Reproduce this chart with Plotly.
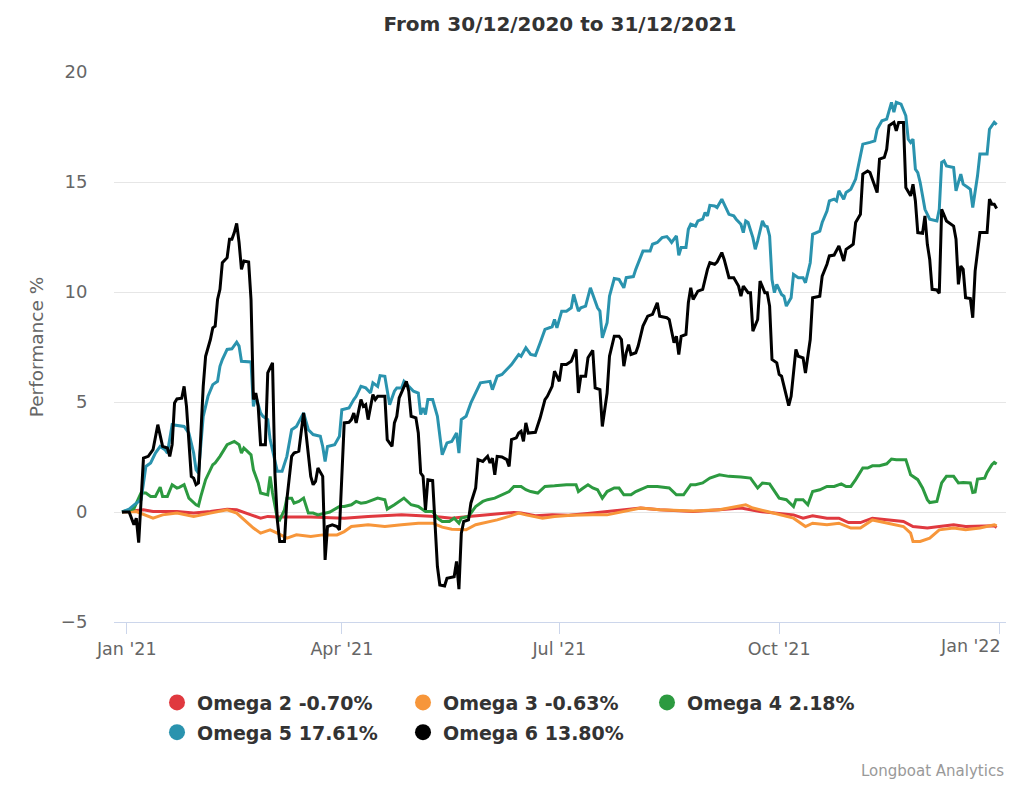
import pandas as pd
import plotly.graph_objects as go

# Day offsets from 1 Jan 2021 and performance values (%)
BASE_DATE = "2021-01-01"

OMEGA2_DAYS = [-2, 7, 11, 21, 28, 35, 42, 46, 52, 56,
               59, 63, 77, 91, 101, 115, 129, 136, 143, 150,
               157, 162, 165, 171, 178, 185, 195, 202, 215, 223,
               237, 248, 257, 265, 273, 279, 283, 287, 293, 298,
               302, 307, 312, 318, 325, 329, 335, 340, 346, 351,
               357, 363, 364]
OMEGA2_VALS = [0.0, 0.10, 0.02, 0.02, -0.05, 0.02, 0.13, 0.10, -0.13, -0.28,
               -0.20, -0.23, -0.23, -0.28, -0.20, -0.13, -0.20, -0.28, -0.20, -0.13,
               -0.08, -0.02, -0.05, -0.17, -0.13, -0.15, -0.05, 0.02, 0.18, 0.10,
               0.02, 0.10, 0.18, 0.02, -0.05, -0.13, -0.28, -0.17, -0.28, -0.28,
               -0.48, -0.48, -0.28, -0.36, -0.43, -0.66, -0.73, -0.66, -0.58, -0.66,
               -0.63, -0.63, -0.70]

OMEGA3_DAYS = [-2, 4, 11, 15, 21, 28, 35, 42, 46, 49,
               53, 56, 60, 63, 67, 71, 77, 82, 88, 91,
               94, 101, 108, 115, 122, 128, 132, 136, 142, 146,
               150, 155, 160, 164, 167, 174, 179, 186, 195, 201,
               215, 223, 237, 248, 259, 262, 268, 273, 279, 284,
               287, 293, 298, 303, 307, 312, 318, 325, 328, 329,
               332, 336, 340, 346, 351, 357, 363, 364]
OMEGA3_VALS = [0.0, 0.02, -0.28, -0.13, -0.05, -0.20, -0.05, 0.10, -0.05, -0.36,
               -0.73, -0.96, -0.81, -0.96, -1.19, -1.04, -1.11, -1.04, -1.04, -0.89,
               -0.66, -0.58, -0.66, -0.58, -0.51, -0.51, -0.69, -0.78, -0.81, -0.58,
               -0.48, -0.36, -0.20, -0.05, -0.13, -0.28, -0.20, -0.15, -0.13, -0.13,
               0.18, 0.10, 0.05, 0.10, 0.33, 0.18, 0.02, -0.13, -0.28, -0.66,
               -0.51, -0.58, -0.51, -0.73, -0.73, -0.36, -0.51, -0.66, -0.96, -1.34,
               -1.34, -1.19, -0.81, -0.73, -0.81, -0.73, -0.58, -0.63]

OMEGA4_DAYS = [-2, 3, 6, 8, 10, 12, 14, 15, 17, 19,
               21, 22, 24, 26, 29, 30, 31, 33, 36, 37,
               39, 42, 45, 47, 48, 49, 52, 53, 55, 56,
               59, 60, 61, 63, 64, 66, 67, 69, 70, 72,
               74, 76, 78, 80, 85, 89, 91, 94, 96, 98,
               100, 105, 108, 109, 112, 114, 116, 119, 122, 125,
               128, 130, 132, 135, 137, 139, 140, 143, 146, 149,
               151, 154, 157, 160, 162, 165, 167, 169, 172, 175,
               179, 184, 188, 189, 191, 193, 195, 197, 199, 201,
               204, 206, 208, 211, 213, 218, 222, 227, 230, 233,
               236, 238, 241, 244, 248, 252, 257, 261, 264, 266,
               269, 271, 273, 276, 279, 280, 283, 285, 287, 290,
               293, 296, 299, 301, 303, 305, 308, 310, 312, 315,
               318, 320, 322, 326, 328, 331, 333, 335, 336, 339,
               341, 343, 346, 348, 350, 353, 354, 355, 356, 359,
               360, 362, 363, 364]
OMEGA4_VALS = [0.0, 0.15, 0.87, 0.86, 0.71, 0.71, 1.13, 0.71, 0.71, 1.24,
               1.09, 1.12, 1.24, 0.63, 0.33, 0.28, 0.71, 1.47, 2.15, 2.23,
               2.53, 3.06, 3.21, 3.06, 2.68, 2.91, 2.60, 1.92, 1.32, 0.86,
               0.78, 1.62, 0.86, -0.28, -0.36, 0.10, 0.63, 0.63, 0.40, 0.48,
               0.63, -0.05, -0.05, -0.13, 0.0, 0.25, 0.25, 0.33, 0.48, 0.40,
               0.43, 0.63, 0.56, 0.13, 0.33, 0.48, 0.63, 0.33, 0.25, 0.02,
               0.02, -0.28, -0.43, -0.43, -0.28, -0.51, -0.28, -0.20, 0.25, 0.48,
               0.56, 0.63, 0.78, 0.93, 1.16, 1.16, 1.01, 0.93, 0.86, 1.16,
               1.19, 1.24, 1.24, 0.93, 1.09, 1.24, 1.09, 1.01, 0.63, 0.93,
               1.09, 1.09, 0.78, 0.78, 0.93, 1.16, 1.16, 1.09, 0.78, 0.78,
               1.24, 1.24, 1.32, 1.54, 1.69, 1.62, 1.59, 1.54, 1.09, 1.32,
               1.28, 0.93, 0.63, 0.56, 0.25, 0.56, 0.56, 0.33, 0.93, 1.01,
               1.16, 1.16, 1.28, 1.16, 1.16, 1.47, 2.00, 2.00, 2.10, 2.10,
               2.19, 2.41, 2.38, 2.38, 1.69, 1.47, 1.09, 0.56, 0.43, 0.48,
               1.32, 1.62, 1.62, 1.32, 1.34, 1.32, 0.89, 0.91, 1.50, 1.54,
               1.80, 2.15, 2.25, 2.18]

OMEGA5_DAYS = [-2, 1, 4, 6, 8, 10, 12, 14, 16, 17,
               19, 24, 26, 28, 29, 30, 32, 34, 36, 38,
               39, 40, 42, 44, 46, 47, 48, 52, 53, 54,
               56, 57, 59, 60, 63, 65, 67, 69, 71, 74,
               76, 78, 81, 82, 83, 84, 87, 89, 90, 93,
               95, 96, 98, 100, 102, 103, 105, 106, 108, 109,
               110, 112, 113, 115, 116, 118, 120, 122, 123, 124,
               125, 126, 128, 130, 131, 132, 134, 136, 138, 139,
               140, 142, 144, 146, 148, 152, 153, 155, 157, 159,
               161, 163, 164, 165, 167, 169, 171, 173, 175, 178,
               179, 180, 182, 184, 186, 187, 189, 190, 192, 194,
               195, 197, 198, 199, 201, 202, 204, 206, 208, 209,
               212, 213, 216, 219, 220, 222, 224, 226, 227, 228,
               230, 231, 232, 234, 235, 236, 238, 239, 241, 242,
               243, 244, 246, 247, 249, 250, 252, 254, 255, 257,
               258, 259, 260, 262, 263, 264, 266, 267, 268, 269,
               270, 271, 272, 274, 275, 276, 278, 279, 281, 283,
               284, 286, 287, 290, 291, 293, 294, 296, 297, 298,
               300, 301, 303, 305, 307, 308, 311, 313, 314, 316,
               318, 319, 320, 321, 322, 324, 326, 327, 328, 329,
               330, 331, 332, 333, 334, 336, 339, 340, 341, 342,
               343, 346, 347, 349, 350, 352, 353, 354, 356, 357,
               360, 361, 362, 363, 364]
OMEGA5_VALS = [0.0, 0.13, 0.40, 0.56, 2.07, 2.23, 2.68, 2.98, 2.83, 2.68,
               3.97, 3.89, 3.59, 2.68, 1.92, 1.77, 4.35, 5.26, 5.79, 5.94,
               6.62, 6.93, 7.39, 7.42, 7.72, 7.54, 6.85, 6.82, 4.80, 5.26,
               4.50, 4.35, 4.20, 3.29, 1.85, 1.85, 2.53, 3.74, 3.89, 4.50,
               3.74, 3.52, 3.44, 2.98, 2.30, 2.98, 3.06, 3.44, 4.65, 4.73,
               5.11, 5.26, 5.71, 5.64, 5.41, 5.87, 5.71, 6.20, 6.17, 5.49,
               4.88, 5.49, 5.64, 5.64, 5.94, 5.71, 5.49, 5.41, 4.43, 4.73,
               4.43, 5.11, 5.11, 4.35, 3.44, 2.60, 3.14, 3.21, 3.59, 2.68,
               4.20, 4.35, 4.96, 5.41, 5.87, 5.94, 5.56, 6.17, 6.25, 6.48,
               6.70, 7.01, 7.16, 7.08, 7.46, 7.16, 7.11, 7.69, 8.30, 8.42,
               8.75, 8.37, 9.13, 9.13, 9.28, 9.89, 9.13, 9.28, 9.36, 10.19,
               9.89, 9.28, 9.13, 7.92, 8.60, 9.81, 10.61, 10.57, 10.19, 10.65,
               10.70, 11.03, 11.86, 11.86, 12.17, 12.25, 12.47, 12.52, 12.40, 12.25,
               12.55, 11.67, 12.02, 12.02, 12.85, 13.08, 13.00, 13.23, 13.31, 13.61,
               13.46, 13.94, 13.91, 13.84, 14.22, 13.99, 13.53, 13.46, 13.31, 13.08,
               12.70, 13.23, 13.16, 12.47, 11.94, 12.32, 13.23, 13.00, 12.97, 12.55,
               10.57, 9.97, 10.35, 9.89, 9.81, 9.36, 9.74, 10.80, 10.65, 10.65,
               10.42, 11.33, 12.62, 12.77, 13.16, 13.68, 14.14, 14.22, 14.14, 14.60,
               14.22, 14.52, 14.67, 15.13, 16.19, 16.72, 16.80, 16.87, 17.40, 17.78,
               17.86, 18.24, 18.62, 18.17, 18.62, 18.54, 18.01, 16.95, 16.80, 16.95,
               15.58, 15.43, 14.98, 14.37, 13.76, 13.31, 13.23, 13.76, 15.89, 15.96,
               15.73, 15.66, 14.60, 15.36, 14.90, 14.75, 14.67, 13.84, 15.28, 16.27,
               16.27, 17.40, 17.56, 17.71, 17.61]

OMEGA6_DAYS = [-2, 1, 3, 4, 5, 7, 9, 11, 13, 15,
               17, 18, 19, 20, 21, 23, 24, 25, 27, 28,
               29, 30, 32, 33, 35, 36, 37, 38, 39, 40,
               42, 43, 44, 45, 46, 47, 48, 49, 51, 52,
               53, 54, 55, 56, 58, 59, 61, 62, 63, 64,
               66, 67, 69, 70, 72, 74, 75, 77, 78, 79,
               80, 82, 83, 84, 86, 88, 89, 91, 93, 94,
               95, 96, 98, 99, 100, 101, 103, 104, 105, 108,
               109, 111, 112, 113, 114, 116, 117, 118, 119, 121,
               122, 123, 124, 125, 126, 128, 129, 130, 131, 133,
               134, 137, 138, 139, 140, 141, 143, 144, 146, 147,
               149, 151, 152, 153, 154, 155, 157, 159, 160, 161,
               163, 164, 165, 166, 167, 168, 171, 173, 175, 176,
               178, 179, 181, 182, 184, 186, 188, 189, 190, 192,
               193, 195, 196, 198, 199, 201, 202, 204, 206, 207,
               208, 209, 210, 211, 213, 214, 216, 218, 220, 222,
               223, 226, 227, 228, 229, 230, 231, 232, 234, 235,
               236, 237, 239, 241, 243, 244, 246, 247, 249, 250,
               252, 254, 256, 257, 258, 260, 261, 262, 264, 265,
               267, 268, 269, 270, 272, 273, 274, 277, 278, 280,
               281, 283, 284, 286, 287, 290, 291, 293, 294, 296,
               298, 300, 301, 303, 304, 305, 307, 308, 310, 311,
               312, 314, 315, 317, 318, 319, 321, 322, 323, 325,
               326, 328, 329, 330, 331, 333, 334, 335, 336, 337,
               339, 340, 341, 343, 346, 347, 348, 349, 350, 351,
               353, 354, 355, 357, 360, 361, 362, 363, 364]
OMEGA6_VALS = [0.0, 0.0, -0.58, -0.28, -1.39, 2.45, 2.53, 2.83, 3.97, 2.98,
               2.91, 2.53, 3.06, 4.96, 5.14, 5.17, 5.71, 4.80, 1.62, 1.54,
               1.24, 1.32, 5.71, 7.08, 7.84, 8.37, 8.45, 9.66, 10.12, 11.33,
               11.56, 12.40, 12.40, 12.70, 13.12, 12.25, 11.03, 11.41, 11.36, 9.66,
               5.11, 5.41, 4.80, 3.06, 3.06, 6.32, 6.78, 1.77, -0.36, -1.34,
               -1.34, 0.56, 2.53, 2.68, 2.76, 4.50, 3.59, 1.62, 1.24, 1.39,
               2.00, 1.62, -2.18, -0.66, -0.58, -0.66, -0.81, 4.05, 4.08, 4.20,
               4.50, 4.05, 5.11, 4.80, 4.88, 4.20, 5.34, 5.11, 5.26, 5.26,
               3.29, 2.98, 4.05, 4.35, 5.19, 5.71, 5.94, 5.49, 4.35, 4.28,
               3.59, 1.77, 1.62, 0.10, 1.47, 1.43, -0.51, -2.48, -3.32, -3.36,
               -3.01, -2.94, -2.25, -3.51, -0.96, -0.43, -0.36, 0.40, 1.09, 2.38,
               2.30, 2.53, 2.23, 2.45, 1.69, 2.53, 2.50, 2.38, 2.07, 3.29,
               3.37, 3.59, 3.67, 3.21, 4.05, 3.59, 3.62, 4.28, 5.11, 5.26,
               5.71, 6.40, 5.94, 6.70, 6.70, 6.85, 7.39, 5.41, 6.17, 6.17,
               7.01, 7.35, 5.64, 5.56, 3.89, 5.41, 7.08, 7.99, 7.99, 7.84,
               6.63, 7.24, 7.61, 7.16, 7.24, 7.54, 8.45, 8.90, 8.98, 9.51,
               8.90, 8.83, 8.75, 8.15, 7.69, 7.99, 7.16, 7.99, 8.07, 9.51,
               10.19, 9.66, 10.04, 10.12, 11.03, 11.33, 11.26, 11.36, 11.79, 11.48,
               10.65, 10.65, 10.27, 9.81, 10.27, 9.97, 9.97, 8.22, 8.75, 10.50,
               9.97, 9.97, 9.36, 6.93, 6.78, 6.25, 6.17, 4.84, 5.26, 7.39,
               7.08, 7.01, 6.32, 7.84, 9.74, 9.81, 10.72, 11.26, 11.64, 11.68,
               12.09, 11.41, 11.94, 12.09, 12.17, 13.16, 13.53, 15.36, 15.50, 15.43,
               15.13, 14.52, 16.04, 16.12, 16.49, 17.56, 17.71, 17.33, 17.71, 17.71,
               14.75, 14.37, 14.90, 14.14, 12.70, 12.67, 13.46, 12.17, 11.48, 10.12,
               10.09, 9.94, 13.76, 13.23, 13.00, 12.40, 10.35, 11.18, 11.03, 9.74,
               9.70, 8.83, 10.95, 12.70, 12.70, 14.22, 13.99, 13.99, 13.80]

SERIES_NAMES = ["Omega 2 -0.70%", "Omega 3 -0.63%", "Omega 4 2.18%",
                "Omega 5 17.61%", "Omega 6 13.80%"]
SERIES_DAYS = [OMEGA2_DAYS, OMEGA3_DAYS, OMEGA4_DAYS, OMEGA5_DAYS, OMEGA6_DAYS]
SERIES_VALS = [OMEGA2_VALS, OMEGA3_VALS, OMEGA4_VALS, OMEGA5_VALS, OMEGA6_VALS]
COLORS = ["#e0393f", "#f7963a", "#2c9a40", "#2a93ae", "#000000"]
# which of the three legend columns each series sits in
LEGEND_IDS = ["legend", "legend2", "legend3", "legend", "legend2"]

TICK_DATES = ["2021-01-01", "2021-04-01", "2021-07-01", "2021-10-01", "2022-01-01"]
TICK_TEXT = ["Jan '21", "Apr '21", "Jul '21", "Oct '21", "Jan '22"]

FONT = "DejaVu Sans"

base = pd.Timestamp(BASE_DATE)
fig = go.Figure()

for name, days, vals, color, leg in zip(SERIES_NAMES, SERIES_DAYS, SERIES_VALS,
                                        COLORS, LEGEND_IDS):
    dates = base + pd.to_timedelta(days, unit="D")
    fig.add_trace(go.Scatter(
        x=dates, y=vals, mode="lines", name=name,
        line=dict(color=color, width=3),
        legendgroup=name, showlegend=False,
        hovertemplate="%{x|%d/%m/%Y}<br>%{y:.2f}%<extra>" + name + "</extra>",
    ))
    # legend entry drawn as a round marker, like the original
    fig.add_trace(go.Scatter(
        x=[None], y=[None], mode="markers", name=name,
        marker=dict(color=color, size=17, symbol="circle"),
        legendgroup=name, legend=leg, showlegend=True,
    ))

legend_common = dict(
    orientation="v", xanchor="left", yanchor="top",
    font=dict(family=FONT, size=19, color="#333333", weight="bold"),
    bgcolor="rgba(0,0,0,0)", tracegroupgap=2, itemclick="toggle",
)

# the last tick label is pulled left so it stays inside the page, as in the original
last_label = dict(
    text=TICK_TEXT[-1], xref="x", yref="paper",
    x=TICK_DATES[-1], y=-24 / 550, xanchor="right", yanchor="middle", xshift=4,
    showarrow=False, font=dict(family=FONT, size=17.5, color="#666666"),
)
credits = dict(
    text="Longboat Analytics", xref="paper", yref="paper",
    x=1.0, y=-(771 - 622) / 550, xanchor="right", yanchor="middle",
    showarrow=False, font=dict(family=FONT, size=15, color="#999999"),
)

fig.update_layout(
    width=1024, height=785,
    paper_bgcolor="white", plot_bgcolor="white",
    margin=dict(l=114, r=18, t=72, b=163),
    font=dict(family=FONT, color="#666666"),
    title=dict(
        text="<b>From 30/12/2020 to 31/12/2021</b>",
        x=0.5, xref="paper", xanchor="center",
        y=1 - 24 / 785, yanchor="middle",
        font=dict(family=FONT, size=20, color="#333333"),
    ),
    legend=dict(x=(157 - 114) / 892, y=-0.112, **legend_common),
    legend2=dict(x=(403 - 114) / 892, y=-0.112, **legend_common),
    legend3=dict(x=(647 - 114) / 892, y=-0.112, **legend_common),
    hovermode="closest",
    annotations=[last_label, credits],
)

fig.update_xaxes(
    type="date",
    range=["2020-12-26 16:00", "2022-01-03 22:00"],
    tickmode="array", tickvals=TICK_DATES, ticktext=TICK_TEXT[:-1] + [""],
    showgrid=False, zeroline=False,
    showline=True, linecolor="#ccd6eb", linewidth=1,
    ticks="outside", ticklen=11, tickcolor="#ccd6eb",
    tickfont=dict(family=FONT, size=17.5, color="#666666"),
)

fig.update_yaxes(
    range=[-5, 20], tickmode="array", tickvals=[-5, 0, 5, 10, 15, 20],
    showgrid=True, gridcolor="#e6e6e6", gridwidth=1, zeroline=False,
    ticks="outside", ticklen=22, tickcolor="rgba(0,0,0,0)",
    tickfont=dict(family=FONT, size=18, color="#666666"),
    title=dict(text="Performance %", standoff=12,
               font=dict(family=FONT, size=18.5, color="#666666")),
)

# drop the default page margin so the 1024x785 figure fills the window exactly
fig.write_html("out.html", config={"displayModeBar": False},
               post_script="document.body.style.margin='0px';")
